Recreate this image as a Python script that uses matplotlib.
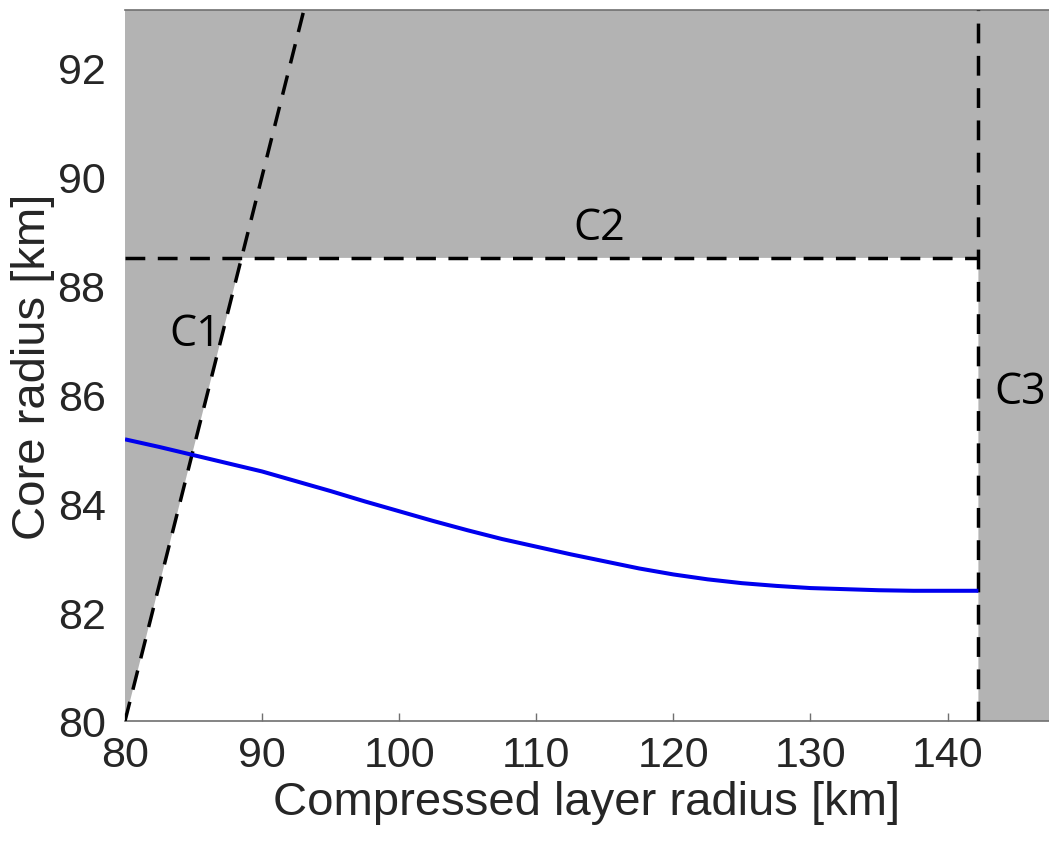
import matplotlib
matplotlib.use("Agg")
import matplotlib.pyplot as plt
from matplotlib.patches import Polygon

# Data
x_curve = [80, 82.5, 85, 87.5, 90, 92.5, 95, 97.5, 100, 102.5, 105, 107.5, 110, 112.5,
           115, 117.5, 120, 122.5, 125, 127.5, 130, 132.5, 135, 137.5, 140, 142.25]
y_curve = [85.17, 85.03, 84.88, 84.73, 84.58, 84.40, 84.22, 84.03, 83.85, 83.67, 83.50, 83.34,
           83.20, 83.06, 82.93, 82.80, 82.69, 82.60, 82.53, 82.48, 82.44, 82.42, 82.40, 82.39,
           82.39, 82.39]
c2_level = 88.5
c3_level = 142.25
xticks = [80, 90, 100, 110, 120, 130, 140]
yticks = [80, 82, 84, 86, 88, 90, 92]
xlim = (80, 147.4)
ylim = (80, 93.05)

plt.rcParams['font.family'] = ['Liberation Sans', 'DejaVu Sans']
fig = plt.figure(figsize=(10.49, 8.45), dpi=100)
ax = fig.add_axes([125/1049, 123/845, 924/1049, 711/845])
ax.set_xlim(*xlim)
ax.set_ylim(*ylim)
ax.set_facecolor('#b3b3b3')

# feasible (white) region
poly = Polygon([(xlim[0], ylim[0]), (c2_level, c2_level), (c3_level, c2_level), (c3_level, ylim[0])],
               closed=True, facecolor='white', edgecolor='none', zorder=1)
ax.add_patch(poly)

dash = (5.7, 3.6)
lw = 2.5
# C1: y = x
ax.plot([xlim[0], ylim[1]], [xlim[0], ylim[1]], color='black', lw=lw, dashes=dash, zorder=3)
# C2
ax.plot([xlim[0], c3_level], [c2_level, c2_level], color='black', lw=lw, dashes=dash, zorder=3)
# C3
ax.plot([c3_level, c3_level], [ylim[0], ylim[1]], color='black', lw=lw, dashes=dash, zorder=3)

ax.plot(x_curve, y_curve, color='#0000ee', lw=2.9, zorder=4, solid_capstyle='butt')

lab_font = ['Open Sans', 'DejaVu Sans']
ax.text(85.1, 87.1, 'C1', fontsize=31, family=lab_font, ha='center', va='center', zorder=5)
ax.text(114.6, 89.06, 'C2', fontsize=31, family=lab_font, ha='center', va='center', zorder=5)
ax.text(145.3, 86.05, 'C3', fontsize=31, family=lab_font, ha='center', va='center', zorder=5)

ax.set_xticks(xticks)
ax.set_yticks(yticks)
ax.tick_params(direction='in', length=6, width=1, colors='#707070', labelcolor='#262626',
               labelsize=31, pad=10)
ax.tick_params(axis='y', length=0, pad=14)
ax.spines['left'].set_visible(False)
ax.spines['right'].set_visible(False)
for s in ('top', 'bottom'):
    ax.spines[s].set_color('#707070')
    ax.spines[s].set_linewidth(1.2)
ax.set_xlabel('Compressed layer radius [km]', fontsize=34, color='#262626', labelpad=4)
ax.set_ylabel('Core radius [km]', fontsize=34, color='#262626', labelpad=2)

fig.savefig('out.png', dpi=100)
